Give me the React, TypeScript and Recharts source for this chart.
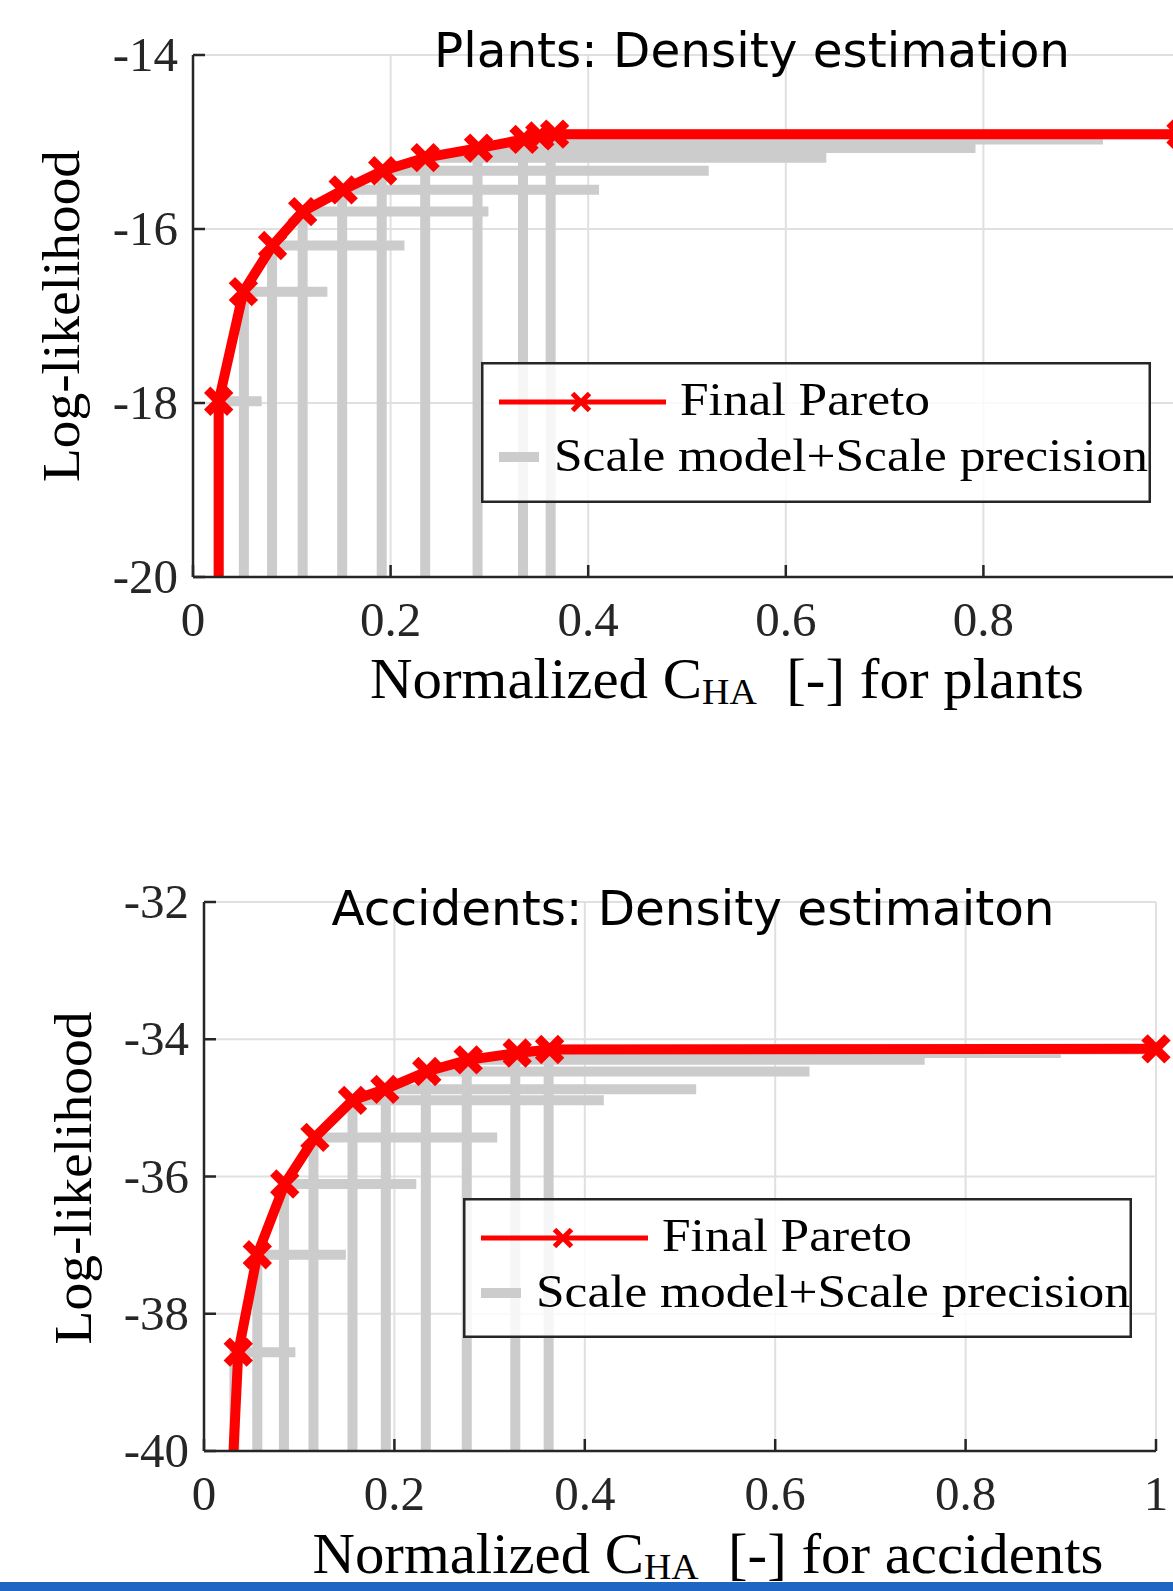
import React from 'react';
import { LineChart, Line, XAxis, YAxis, CartesianGrid, Legend, Label } from 'recharts';

const SERIF = '"Liberation Serif", "Times New Roman", serif';
const SANS = '"DejaVu Sans", Verdana, sans-serif';
const RED = '#ff0000';
const GRAY = '#cccccc';
const INK = '#262626';
const GRID = '#e0e0e0';

const xTicks = [0, 0.2, 0.4, 0.6, 0.8, 1];

// Plants: final pareto front (first point is the tail running off the bottom)
const plantsYTicks = [-20, -18, -16, -14];
const plantsParetoX = [0.026, 0.026, 0.051, 0.0805, 0.111, 0.152, 0.192, 0.235, 0.289, 0.335, 0.351, 0.366, 1.0];
const plantsParetoY = [-20, -17.98, -16.72, -16.19, -15.8, -15.55, -15.33, -15.18, -15.07, -14.97, -14.93, -14.91, -14.91];
// Plants: scaled runs, corner (x, y) and end of the horizontal part
const plantsScaleX = [0.026, 0.0515, 0.08, 0.111, 0.151, 0.191, 0.235, 0.288, 0.334, 0.362];
const plantsScaleY = [-17.98, -16.72, -16.19, -15.8, -15.55, -15.33, -15.18, -15.07, -14.97, -14.91];
const plantsScaleEnd = [0.0695, 0.136, 0.214, 0.299, 0.411, 0.522, 0.641, 0.792, 0.921, 1.0];

// Accidents
const accYTicks = [-40, -38, -36, -34, -32];
const accParetoX = [0.031, 0.036, 0.056, 0.0848, 0.1165, 0.156, 0.19, 0.234, 0.2775, 0.329, 0.363, 1.0];
const accParetoY = [-40, -38.56, -37.14, -36.11, -35.43, -34.89, -34.73, -34.47, -34.3, -34.2, -34.15, -34.14];
const accScaleX = [0.032, 0.056, 0.084, 0.115, 0.156, 0.191, 0.233, 0.276, 0.327, 0.362];
const accScaleY = [-38.56, -37.14, -36.11, -35.43, -34.89, -34.73, -34.47, -34.3, -34.2, -34.15];
const accScaleEnd = [0.096, 0.149, 0.223, 0.308, 0.42, 0.517, 0.636, 0.757, 0.9, 1.0];

type Pt = { x: number; y: number };

const toPoints = (xs: number[], ys: number[]): Pt[] => xs.map((x, i) => ({ x, y: ys[i] }));

// each scaled run is drawn as an L: up from the bottom, then across
const toElbows = (xs: number[], ys: number[], ends: number[], yMin: number): Pt[][] =>
    xs.map((x, i) => [
        { x, y: yMin },
        { x, y: ys[i] },
        { x: ends[i], y: ys[i] },
    ]);

const crossPath = (cx: number, cy: number, s: number) =>
    `M${cx - s},${cy - s}L${cx + s},${cy + s}M${cx - s},${cy + s}L${cx + s},${cy - s}`;

const makeDot = (yMin: number) => (props: any) => {
    const { cx, cy, index, payload } = props;
    if (payload.y <= yMin || cx == null || cy == null) return <g key={`d${index}`} />;
    return <path key={`d${index}`} d={crossPath(cx, cy, 11.5)} stroke={RED} strokeWidth={9} fill="none" />;
};

const XTick = (props: any) => {
    const { x, y, payload } = props;
    return (
        <g>
            <line x1={x} x2={x} y1={y} y2={y - 12} stroke={INK} strokeWidth={2.5} />
            <text x={x} y={y + 59} textAnchor="middle" fontFamily={SERIF} fontSize={49} fill={INK}>
                {String(payload.value)}
            </text>
        </g>
    );
};

const YTick = (props: any) => {
    const { x, y, payload } = props;
    return (
        <g>
            <line x1={x} x2={x + 12} y1={y} y2={y} stroke={INK} strokeWidth={2.5} />
            <text x={x - 15} y={y + 16} textAnchor="end" fontFamily={SERIF} fontSize={49} fill={INK}>
                {String(payload.value)}
            </text>
        </g>
    );
};

const LegendBox = ({ w, h }: { w: number; h: number }) => (
    <svg width={w} height={h} style={{ display: 'block' }}>
        <rect x={1.25} y={1.25} width={w - 2.5} height={h - 2.5} fill="rgba(255,255,255,0.82)" stroke={INK} strokeWidth={2.5} />
        <line x1={18} x2={185} y1={40} y2={40} stroke={RED} strokeWidth={5} />
        <path d={crossPath(100, 40, 8.5)} stroke={RED} strokeWidth={5} fill="none" />
        <text x={199} y={53} fontFamily={SERIF} fontSize={47} fill="#000" textLength={250} lengthAdjust="spacingAndGlyphs">
            Final Pareto
        </text>
        <line x1={18} x2={58} y1={95} y2={95} stroke={GRAY} strokeWidth={10} />
        <text x={73} y={109} fontFamily={SERIF} fontSize={47} fill="#000" textLength={594} lengthAdjust="spacingAndGlyphs">
            Scale model+Scale precision
        </text>
    </svg>
);

interface PanelProps {
    top: number;
    height: number;
    margin: { top: number; right: number; bottom: number; left: number };
    yDomain: [number, number];
    yTicks: number[];
    pareto: Pt[];
    elbows: Pt[][];
    title: string;
    titleX: number;
    titleY: number;
    titleLen: number;
    yLabelX: number;
    yLabelY: number;
    yLabelLen: number;
    xLabelX: number;
    xLabelY: number;
    xLabelLen: number;
    xLabelSuffix: string;
    legend: { x: number; y: number; w: number; h: number };
}

const CHART_W = 1240;

const Panel: React.FC<PanelProps> = (p) => {
    const xLabel = () => (
        <text
            x={p.xLabelX}
            y={p.xLabelY}
            textAnchor="middle"
            fontFamily={SERIF}
            fontSize={56}
            fill="#000"
            textLength={p.xLabelLen}
            lengthAdjust="spacingAndGlyphs"
        >
            Normalized C<tspan fontSize={36} dy={6}>HA</tspan>
            <tspan dy={-6}>{`\u00A0\u00A0[-]\u00A0for ${p.xLabelSuffix}`}</tspan>
        </text>
    );
    const yLabel = () => (
        <text
            transform={`translate(${p.yLabelX},${p.yLabelY}) rotate(-90)`}
            textAnchor="middle"
            fontFamily={SERIF}
            fontSize={52}
            fill="#000"
            textLength={p.yLabelLen}
            lengthAdjust="spacingAndGlyphs"
        >
            Log-likelihood
        </text>
    );

    return (
        <div style={{ position: 'absolute', left: 0, top: p.top, width: CHART_W, height: p.height }}>
            <LineChart width={CHART_W} height={p.height} margin={p.margin}>
                <CartesianGrid stroke={GRID} strokeWidth={2} />
                <XAxis
                    type="number"
                    dataKey="x"
                    domain={[0, 1]}
                    ticks={xTicks}
                    interval={0}
                    height={60}
                    tickSize={0}
                    tickMargin={0}
                    tickLine={false}
                    tick={XTick}
                    axisLine={{ stroke: INK, strokeWidth: 2.5 }}
                >
                    <Label content={xLabel} />
                </XAxis>
                <YAxis
                    type="number"
                    dataKey="y"
                    domain={p.yDomain}
                    ticks={p.yTicks}
                    interval={0}
                    width={80}
                    tickSize={0}
                    tickMargin={0}
                    tickLine={false}
                    tick={YTick}
                    axisLine={{ stroke: INK, strokeWidth: 2.5 }}
                >
                    <Label content={yLabel} />
                </YAxis>
                <Legend
                    layout="vertical"
                    align="center"
                    verticalAlign="middle"
                    width={p.legend.w}
                    height={p.legend.h}
                    wrapperStyle={{ left: p.legend.x, top: p.legend.y, width: p.legend.w, height: p.legend.h, margin: 0, padding: 0 }}
                    content={() => <LegendBox w={p.legend.w} h={p.legend.h} />}
                />
                {p.elbows.map((pts, i) => (
                    <Line
                        key={`s${i}`}
                        data={pts}
                        dataKey="y"
                        type="linear"
                        stroke={GRAY}
                        strokeWidth={10}
                        dot={false}
                        activeDot={false}
                        legendType="none"
                        isAnimationActive={false}
                    />
                ))}
                <Line
                    data={p.pareto}
                    dataKey="y"
                    type="linear"
                    stroke={RED}
                    strokeWidth={10}
                    strokeLinejoin="round"
                    dot={makeDot(p.yDomain[0])}
                    activeDot={false}
                    isAnimationActive={false}
                />
            </LineChart>
            <svg
                width={CHART_W}
                height={p.height}
                style={{ position: 'absolute', left: 0, top: 0, pointerEvents: 'none' }}
            >
                <text
                    x={p.titleX}
                    y={p.titleY}
                    textAnchor="middle"
                    fontFamily={SANS}
                    fontSize={48}
                    fill="#000"
                    textLength={p.titleLen}
                    lengthAdjust="spacingAndGlyphs"
                >
                    {p.title}
                </text>
            </svg>
        </div>
    );
};

export default function App() {
    return (
        <div
            style={{
                position: 'absolute',
                left: 0,
                top: 0,
                width: 1173,
                height: 1591,
                overflow: 'hidden',
                background: '#fff',
            }}
        >
            <Panel
                top={0}
                height={720}
                margin={{ top: 55, right: CHART_W - 1181, bottom: 720 - 577 - 60, left: 193 - 80 }}
                yDomain={[-20, -14]}
                yTicks={plantsYTicks}
                pareto={toPoints(plantsParetoX, plantsParetoY)}
                elbows={toElbows(plantsScaleX, plantsScaleY, plantsScaleEnd, -20)}
                title="Plants: Density estimation"
                titleX={752}
                titleY={67}
                titleLen={636}
                yLabelX={79}
                yLabelY={316}
                yLabelLen={332}
                xLabelX={727}
                xLabelY={698}
                xLabelLen={714}
                xLabelSuffix="plants"
                legend={{ x: 481, y: 362, w: 670, h: 141 }}
            />
            <Panel
                top={840}
                height={751}
                margin={{ top: 62, right: CHART_W - 1156, bottom: 751 - 611 - 60, left: 204 - 80 }}
                yDomain={[-40, -32]}
                yTicks={accYTicks}
                pareto={toPoints(accParetoX, accParetoY)}
                elbows={toElbows(accScaleX, accScaleY, accScaleEnd, -40)}
                title="Accidents: Density estimaiton"
                titleX={693}
                titleY={85}
                titleLen={723}
                yLabelX={91}
                yLabelY={338}
                yLabelLen={333}
                xLabelX={708}
                xLabelY={733}
                xLabelLen={791}
                xLabelSuffix="accidents"
                legend={{ x: 463, y: 358, w: 669, h: 140 }}
            />
            <div style={{ position: 'absolute', left: 0, top: 1582, width: 1173, height: 9, background: '#1f66c4' }} />
        </div>
    );
}
